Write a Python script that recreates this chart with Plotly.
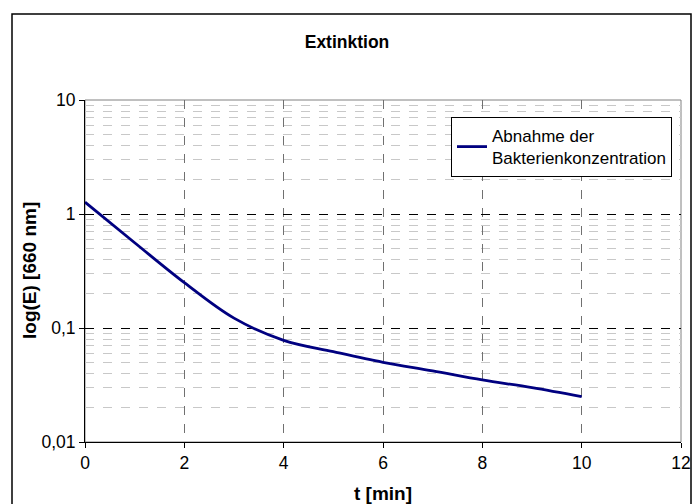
import plotly.graph_objects as go

t_min = [0, 1, 2, 3, 4, 5, 6, 7, 8, 9, 10]
extinktion = [1.27, 0.56, 0.25, 0.122, 0.078, 0.062, 0.050, 0.042, 0.035, 0.030, 0.025]
series_name = "Abnahme der<br>Bakterienkonzentration"
y_tickvals = [0.01, 0.1, 1, 10]
y_ticktext = ["0,01", "0,1", "1", "10"]
x_tickvals = [0, 2, 4, 6, 8, 10, 12]

FONT = "Liberation Sans, Arial, sans-serif"

W, H = 694, 504
L, R, T, B = 85, 13, 100, 62
PW, PH = W - L - R, H - T - B


def px(xf):
    return (xf - L) / PW


def py(yf):
    return (H - B - yf) / PH


fig = go.Figure()
fig.add_trace(go.Scatter(
    x=t_min, y=extinktion, mode="lines", name=series_name,
    line=dict(color="#000080", width=2.8, shape="spline", smoothing=1.0),
))

fig.update_layout(
    width=W, height=H,
    margin=dict(l=L, r=R, t=T, b=B),
    paper_bgcolor="white", plot_bgcolor="white",
    font=dict(family=FONT, size=17.5, color="black"),
    title=dict(text="<b>Extinktion</b>", x=0.5, xref="container", xanchor="center",
               y=1 - 42 / H, yref="container", yanchor="middle",
               font=dict(size=17.5, family=FONT)),
    showlegend=True,
    legend=dict(x=px(451), y=py(117), xanchor="left", yanchor="top",
                bgcolor="white", bordercolor="black", borderwidth=1,
                font=dict(size=17, family=FONT), itemwidth=30, tracegroupgap=0),
    xaxis=dict(range=[0, 12], tickvals=x_tickvals, showline=True, linecolor="black",
               linewidth=1, ticks="outside", ticklen=5, tickcolor="black",
               showgrid=True, gridcolor="#707070", griddash="dash", gridwidth=1,
               zeroline=False, tickfont=dict(size=17.5), automargin=False),
    yaxis=dict(type="log", range=[-2, 1], tickvals=y_tickvals, ticktext=y_ticktext,
               showline=True, linecolor="black", linewidth=1, ticks="outside",
               ticklen=5, tickcolor="black", tickfont=dict(size=17.5),
               showgrid=True, gridcolor="black", griddash="dash", gridwidth=1,
               minor=dict(dtick="D1", showgrid=True, gridcolor="#c8c8c8",
                          griddash="dash", gridwidth=1, ticks=""),
               zeroline=False, automargin=False),
)

fig.add_annotation(text="<b>t [min]</b>", xref="paper", yref="paper",
                   x=0.5, y=py(494), xanchor="center", yanchor="middle",
                   showarrow=False, font=dict(size=19, family=FONT))
fig.add_annotation(text="<b>log(E) [660 nm]</b>", xref="paper", yref="paper",
                   x=px(29), y=py(271), xanchor="center", yanchor="middle",
                   textangle=-90, showarrow=False, font=dict(size=19, family=FONT))

# plot area border (gray) and outer chart border
fig.add_shape(type="rect", xref="paper", yref="paper", x0=0, x1=1, y0=0, y1=1,
              line=dict(color="#808080", width=1), layer="below")
fig.add_shape(type="rect", xref="paper", yref="paper",
              x0=px(12), x1=px(691), y0=py(515), y1=py(14),
              line=dict(color="black", width=1.5), layer="below")

fig.write_html(
    "out.html",
    config={"displayModeBar": False},
    post_script="document.body.style.margin='0';document.body.style.overflow='hidden';",
)
